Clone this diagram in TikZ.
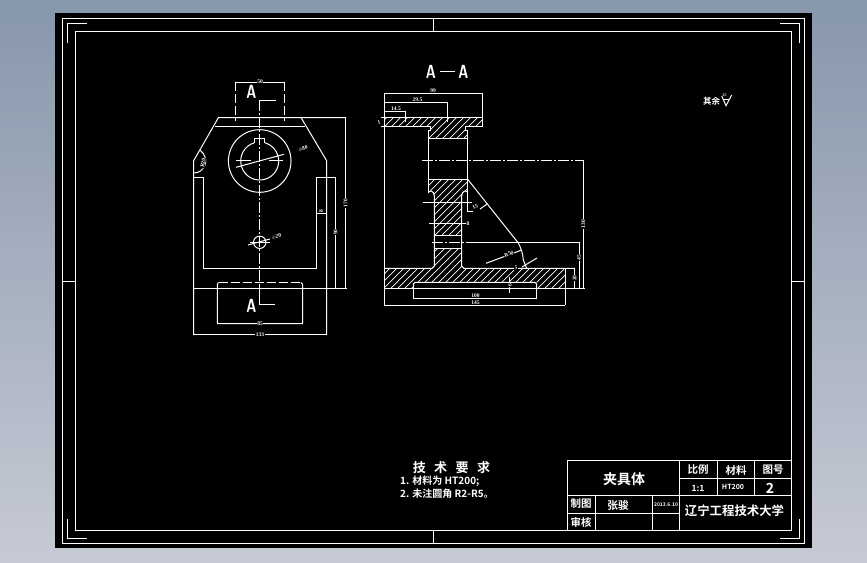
\documentclass[tikz,border=0pt]{standalone}
\usepackage{fontspec}
\setmainfont{Liberation Serif}
\newfontfamily\cjk{Noto Sans CJK SC}[BoldFont={Noto Sans CJK SC Bold}]
\definecolor{bgtop}{HTML}{8797AC}
\definecolor{bgbot}{HTML}{C6CAD4}
\newcommand{\tallA}{\scalebox{0.72}[1]{A}}
\tikzset{
  ln/.style={draw=white,line width=1pt},
  frameline/.style={draw=white,line width=1pt},
  center/.style={draw=white,line width=1pt,dash pattern=on 11pt off 2pt on 2pt off 2pt},
  hidden/.style={draw=white,line width=1pt,dash pattern=on 9pt off 3pt},
  hatchline/.style={draw=white,line width=0.7pt},
  dimtxt/.style={text=white,font=\fontsize{5.5}{5.5}\selectfont\bfseries,inner sep=0.4pt,fill=black},
  bigA/.style={text=white,font=\fontsize{19}{19}\selectfont\sffamily\bfseries,inner sep=0},
  cn/.style={text=white,font=\cjk\bfseries\fontsize{#1}{#1}\selectfont,inner sep=0},
  cn/.default=10,
}
\begin{document}
\begin{tikzpicture}[x=1pt,y=-1pt]
\useasboundingbox (0,0) rectangle (867,562);
\fill[top color=bgtop,bottom color=bgbot] (0,0) rectangle (867,562);
\fill[black] (55,13) rectangle (812,548);
% frames
\draw[frameline] (62.5,18.5) rectangle (804.5,543.5);
\draw[frameline] (75.5,31.5) rectangle (791.5,530.5);
\draw[frameline] (67.5,43) -- (67.5,23.5) -- (87,23.5);
\draw[frameline] (780,23.5) -- (799.5,23.5) -- (799.5,43);
\draw[frameline] (799.5,519) -- (799.5,538.5) -- (780,538.5);
\draw[frameline] (87,538.5) -- (67.5,538.5) -- (67.5,519);
\draw[frameline] (433.5,18.5) -- (433.5,31.5);
\draw[frameline] (433.5,530.5) -- (433.5,543.5);
\draw[frameline] (62.5,281) -- (75.5,281);
\draw[frameline] (791.5,281) -- (804.5,281);
% ---------- left view
\draw[ln] (193.5,335) -- (193.5,161) -- (218.5,117.5) -- (346,117.5);
\draw[ln] (214.5,126.5) -- (305,126.5);
\draw[ln] (301,117.5) -- (326.5,160.5) -- (326.5,335);
\draw[ln] (193.5,288.3) -- (346.5,288.3);
\draw[ln] (193.5,177.3) -- (203.5,177.3) -- (203.5,268.3) -- (316.5,268.3) -- (316.5,177.3) -- (336,177.3);
\draw[ln] (335.5,177.3) -- (335.5,288.3);
\draw[ln] (345.5,117.5) -- (345.5,288.3);
\draw[ln] (316.5,213.5) -- (326.5,213.5);
\draw[ln] (193.5,334.5) -- (326.5,334.5);
\draw[ln] (259.7,161) circle (31.3);
\draw[ln] (254.3,143) -- (254.3,138.7) -- (264.7,138.7) -- (264.7,143);
\draw[ln] (254.3,142.8) arc (-106.5:-433.5:19);
\draw[ln] (236,167.3) -- (284,154.3);
\draw[ln] (236,160.3) -- (251,160.3) (269,160.3) -- (283.3,160.3);
\draw[ln] (259.7,242.3) circle (6.2);
\draw[ln] (248,245) -- (270,239);
\draw[ln] (250,242.5) -- (270,242.5);
\draw[center] (259.5,100) -- (259.5,282);
\draw[ln] (259.5,100) -- (276,100);
\draw[ln] (259.5,284) -- (259.5,304) -- (275,304);
\draw[ln] (235.3,82) -- (284.3,82);
\draw[hidden] (235.3,82) -- (235.3,121);
\draw[hidden] (284.3,82) -- (284.3,121);
\draw[ln] (200,150) .. controls (205,154) and (207,160) .. (205,165) .. controls (203,170) and (199,173) .. (194,173);
% boss
\draw[hidden] (219,282.5) -- (301,282.5);
\draw[ln] (218.5,282.5) -- (217.3,284.5) -- (217.3,323.7) -- (302.7,323.7) -- (302.7,284.5) -- (301,282.5);
\node[bigA] (a1) at (251.5,91.5) {\tallA};
\node[bigA] (a2) at (251.5,306) {\tallA};
\node[dimtxt] (d1) at (260,82) {50};
\node[dimtxt,rotate=15] (d2) at (303,149) {$\phi$80};
\node[dimtxt,rotate=80] (d3) at (203,163) {R20};
\node[dimtxt,rotate=90] (d4) at (345.5,203) {170};
\node[dimtxt,rotate=90] (d5) at (335.5,232) {90};
\node[dimtxt,rotate=90] (d6) at (321,211) {8};
\node[dimtxt,rotate=15] (d7) at (276.5,237) {$\phi$20};
\node[dimtxt] (d8) at (260,324) {85};
\node[dimtxt] (d9) at (260,334.5) {133};
% ---------- section view hatching
\begin{scope}
\clip (384.7,117.3) -- (482.7,117.3) -- (482.7,126) -- (465,126) -- (465,130) -- (467.7,130) -- (467.7,138.3) -- (428.3,138.3) -- (428.3,130) -- (430,130) -- (430,126) -- (384.7,126) -- cycle;
\foreach \k in {390,397,...,620}{\draw[hatchline] (\k,100) -- (\k-60,160);}
\end{scope}
\begin{scope}
\clip (428.3,179.3) -- (467.7,179.3) -- (467.7,193) .. controls (467.7,190) and (461.7,190) .. (461.7,196) -- (461.7,235) -- (434.3,235) -- (434.3,196) .. controls (434.3,190) and (428.3,190) .. (428.3,193) -- cycle;
\foreach \k in {430,437,...,560}{\draw[hatchline] (\k,170) -- (\k-80,250);}
\end{scope}
\begin{scope}
\clip (434.3,248.3) -- (461.7,248.3) -- (461.7,266) -- (464,268.3) -- (565.3,268.3) -- (565.3,288.3) -- (537,288.3) -- (537,282.3) -- (414,282.3) -- (414,288.3) -- (384.7,288.3) -- (384.7,268.3) -- (432,268.3) -- (434.3,266) -- cycle;
\foreach \k in {390,397,...,660}{\draw[hatchline] (\k,240) -- (\k-60,300);}
\end{scope}
% section outlines
\draw[ln] (381,117.3) -- (482.7,117.3) -- (482.7,126) -- (465,126) -- (465,130) -- (467.7,130) -- (467.7,193);
\draw[ln] (381,126) -- (430,126) -- (430,130) -- (428.3,130) -- (428.3,193);
\draw[ln] (428.3,138.3) -- (467.7,138.3);
\draw[ln] (428.3,179.3) -- (467.7,179.3);
\draw[ln] (428.3,193) .. controls (428.3,190) and (434.3,190) .. (434.3,196) -- (434.3,266) -- (432,268.3) -- (384.7,268.3);
\draw[ln] (467.7,193) .. controls (467.7,190) and (461.7,190) .. (461.7,196) -- (461.7,266) -- (464,268.3) -- (575,268.3);
\draw[ln] (434.3,235) -- (461.7,235);
\draw[ln] (434.3,248.3) -- (461.7,248.3);
\draw[ln] (565.3,268.3) -- (565.3,305);
\draw[ln] (384.7,93.3) -- (384.7,306);
\draw[ln] (482.7,93.3) -- (482.7,117.3);
\draw[ln] (384.7,93.3) -- (482.7,93.3);
\draw[ln] (384.7,288.3) -- (585,288.3);
\draw[ln] (413.3,288.3) -- (413.3,284) -- (415,282.3) -- (535,282.3) -- (536.7,284) -- (536.7,288.3);
\draw[ln] (413.3,288.3) -- (413.3,298) -- (536.7,298) -- (536.7,288.3);
\draw[ln] (384.7,305) -- (565.3,305);
% rib
\draw[ln] (467.7,179.3) -- (518.3,243) .. controls (521,248) and (523,254) .. (523.3,260) -- (526.7,268.3);
% section dims
\draw[ln] (384.7,102.3) -- (447.3,102.3) -- (447.3,122);
\draw[ln] (384.7,111) -- (405.5,111) -- (405.5,122);
\draw[center] (422,160.3) -- (583.3,160.3);
\draw[ln] (583.3,160.3) -- (583.3,288.3);
\draw[center] (432,242.3) -- (466,242.3);
\draw[ln] (466,242.3) -- (579,242.3) -- (579,288.3);
\draw[ln] (574.5,268.3) -- (574.5,288.3);
\draw[ln] (509.7,277) -- (509.7,293);
\draw[ln] (429,223.3) -- (470,223.3);
\draw[ln] (423,202.7) -- (472,202.7);
\draw[ln] (467.7,193) -- (467.7,211) -- (473,211);
\draw[ln] (480,209) -- (487,204);
\draw[ln] (486,263.3) -- (521.7,250);
\draw[ln] (522,267) -- (537,258);
\node[bigA] (a3) at (431,71.5) {\tallA};
\node[bigA] (a4) at (463.5,71.5) {\tallA};
\draw[ln] (440,71) -- (455,71);
\node[dimtxt] (e1) at (433,90.5) {99};
\node[dimtxt] (e2) at (417.5,100) {29.5};
\node[dimtxt] (e3) at (396,108.5) {14.5};
\node[dimtxt,rotate=15] (e4) at (379,122) {1};
\node[dimtxt,rotate=25] (e5) at (475,207) {15};
\node[dimtxt] (e6) at (468,223.3) {8};
\node[dimtxt,rotate=90] (e7) at (583.3,224) {130};
\node[dimtxt,rotate=90] (e8) at (579,257.5) {45};
\node[dimtxt,rotate=90] (e9) at (574.5,278) {20};
\node[dimtxt,rotate=20] (e10) at (509,254) {R50};
\node[dimtxt] (e11) at (516,268) {5};
\node[dimtxt,rotate=90] (e12) at (509.7,285) {6};
\node[dimtxt] (e13) at (475.5,296) {100};
\node[dimtxt] (e14) at (475.5,303) {145};
% roughness
\node[cn=8.5] (r1) at (711.5,101) {其余};
\draw[ln] (722.5,99) -- (729,99);
\draw[ln] (721.7,96) -- (726,105.7) -- (731.7,95);
\node[dimtxt,font=\fontsize{4}{4}\selectfont\bfseries,fill=none] (r2) at (724.5,95) {25};
% technical notes
\node[cn=13] (t1) at (451.5,467.5) {技\hspace{8.5pt}术\hspace{8.5pt}要\hspace{8.5pt}求};
\node[cn=10,anchor=west] (t2) at (400,481) {1. 材料为 HT200;};
\node[cn=10,anchor=west] (t3) at (400,494) {2. 未注圆角 R2-R5。};
% title block
\draw[ln] (567.3,460.7) rectangle (791.3,530);
\draw[ln] (679.3,460.7) -- (679.3,530);
\draw[ln] (567.3,495) -- (791.3,495);
\draw[ln] (679.3,478.3) -- (791.3,478.3);
\draw[ln] (717.3,460.7) -- (717.3,495);
\draw[ln] (754.3,460.7) -- (754.3,495);
\draw[ln] (567.3,513.3) -- (679.3,513.3);
\draw[ln] (595.7,495) -- (595.7,530);
\draw[ln] (652.7,495) -- (652.7,530);
\node[cn=14] (b1) at (624,479) {夹具体};
\node[cn=10.5] (b2) at (698,470) {比例};
\node[cn=10.5] (b3) at (736,470) {材料};
\node[cn=10.5] (b4) at (773,470) {图号};
\node[cn=8.5] (b5) at (698,488) {1:1};
\node[cn=7] (b6) at (733,486.5) {HT200};
\node[cn=14] (b7) at (770,488) {2};
\node[cn=10.5] (b8) at (581,504) {制图};
\node[cn=10.7] (b9) at (618,505) {张骏};
\node[cn=5] (b10) at (666,505) {2013.6.10};
\node[cn=10.5] (b11) at (581,522) {审核};
\node[cn=12.4] (b12) at (734.5,511) {辽宁工程技术大学};
\end{tikzpicture}
\end{document}
